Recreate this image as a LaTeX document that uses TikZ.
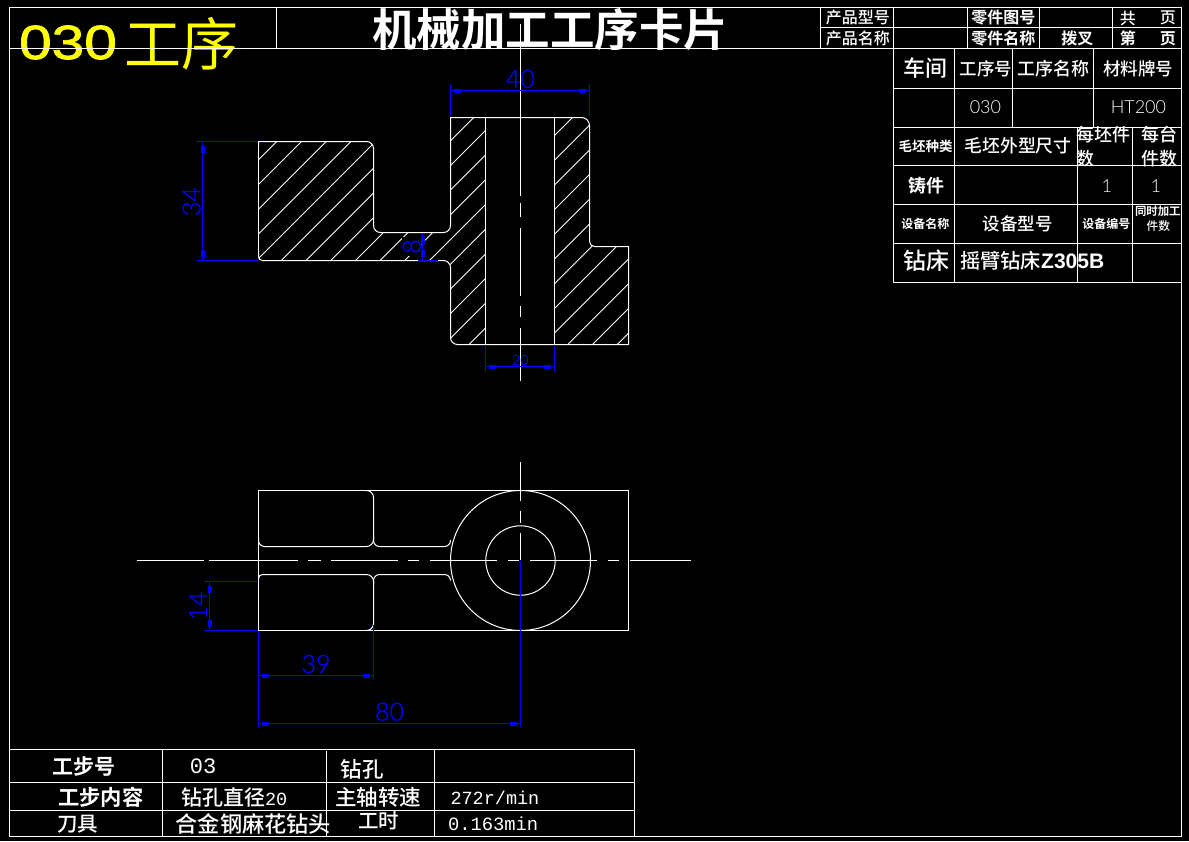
\documentclass[tikz,border=0pt]{standalone}
\usepackage{fontspec}
\setmainfont{Liberation Sans}
\newfontfamily\fatf[FakeBold=1.5]{Liberation Sans}
\newfontfamily\cjk{Noto Sans CJK SC Medium}
\newfontfamily\cjkb{Noto Sans CJK SC Bold}
\newfontfamily\cjkr{Noto Sans CJK SC}
\newfontfamily\thinf{Lato Light}
\newfontfamily\dimf[FakeBold=0.5]{Lato Light}
\newfontfamily\serifn{Liberation Mono}
\definecolor{dimblue}{RGB}{0,0,255}
\definecolor{acadyellow}{RGB}{255,255,0}
\tikzset{
  white line/.style={draw=white,line width=1pt},
  hatch line/.style={draw=white,line width=0.9pt},
  center line/.style={draw=white,line width=1pt},
  lab/.style={inner sep=0pt,outer sep=0pt,text=white,anchor=center},
  dimlab/.style={inner sep=0pt,outer sep=0pt,text=dimblue,anchor=center}
}
% name, x, y, size, font commands, text
\newcommand{\tx}[6]{\node[lab] (#1) at (#2,#3) {\fontsize{#4}{#4}\selectfont #5 #6};}
\newcommand{\dt}[6]{\node[dimlab,#6] (#1) at (#2,#3) {\fontsize{#4}{#4}\selectfont\dimf #5};}
% dimension lines as thin solid bars
\newcommand{\hd}[3]{\fill[dimblue] (#1,#3-0.7) rectangle (#2,#3+0.7);}
\newcommand{\vd}[3]{\fill[dimblue] (#1-0.7,#2) rectangle (#1+0.7,#3);}
% blobs of the dimension arrows
\newcommand{\ablobh}[2]{\fill[dimblue] (#1-3.5,#2-2) rectangle (#1+3.5,#2+2);}
\newcommand{\ablobv}[2]{\fill[dimblue] (#1-2,#2-3.5) rectangle (#1+2,#2+3.5);}
\begin{document}
\begin{tikzpicture}[x=1pt,y=-1pt]
\useasboundingbox (0,0) rectangle (1189,841);
\fill[black] (0,0) rectangle (1189,841);

% ---------- section view: hatching ----------
\begin{scope}
\clip (258.5,141.5) [rounded corners=7] -- (373.5,141.5) -- (373.5,232.5) -- (450.5,232.5) [sharp corners] -- (450.5,117.5) [rounded corners=8] -- (589.5,117.5) [rounded corners=5] -- (589.5,246.5) [sharp corners] -- (628.5,246.5) -- (628.5,344.5) [rounded corners=7] -- (450.5,344.5) [rounded corners=5] -- (450.5,260.5) [sharp corners] -- (258.5,260.5) -- cycle;
\foreach \k in {-8,...,22} {
  \pgfmathsetmacro{\s}{418.3+24.7*\k}
  \draw[hatch line] (\s-100,100) -- (\s-400,400);
}
\end{scope}
\fill[black] (485.5,118) rectangle (554.5,344);
\fill[black] (402,237) rectangle (420.5,256);

% ---------- section view: outline ----------
\draw[white line] (258.5,146) -- (258.5,141.5) [rounded corners=7] -- (373.5,141.5) -- (373.5,232.5) -- (450.5,232.5) [sharp corners] -- (450.5,117.5) [rounded corners=8] -- (589.5,117.5) [rounded corners=5] -- (589.5,246.5) [sharp corners] -- (628.5,246.5) -- (628.5,344.5) [rounded corners=7] -- (450.5,344.5) -- (450.5,260.5) [sharp corners] -- (262,260.5);
\draw[white line,rounded corners=4] (258.5,250) -- (258.5,260.5) -- (265,260.5);
\draw[white line] (258.5,146) -- (258.5,252);
\draw[white line] (485.5,117.5) -- (485.5,344.5);
\draw[white line] (554.5,117.5) -- (554.5,344.5);

% section centre line
\draw[center line] (520.5,24) -- (520.5,196);
\draw[center line] (520.5,203) -- (520.5,217);
\draw[center line] (520.5,228) -- (520.5,296);
\draw[center line] (520.5,306) -- (520.5,317);
\draw[center line] (520.5,328) -- (520.5,380.5);

% ---------- plan view ----------
\draw[white line] (258.5,490.5) rectangle (628.5,630.5);
\draw[white line] (520.5,560.5) circle (70);
\draw[white line] (520.5,560.5) circle (34.7);
\draw[white line] (366,490.5) [rounded corners=7] -- (373.5,490.5) -- (373.5,546.5) [rounded corners=6] -- (258.5,546.5) [sharp corners] -- (258.5,538);
\draw[white line,rounded corners=6] (373.5,536) -- (373.5,546.5) -- (450.5,546.5) -- (450.5,540);
\draw[white line] (366,630.5) [rounded corners=7] -- (373.5,630.5) -- (373.5,574.5) [sharp corners,rounded corners=4] -- (258.5,574.5) [sharp corners] -- (258.5,580);
\draw[white line,rounded corners=6] (373.5,584) -- (373.5,574.5) -- (450.5,574.5) -- (450.5,580);
% plan centre lines
\foreach \a/\b in {136.5/204.2,208.9/298,308.2/320.9,331/398.4,408.2/419.1,430/497.3,508.2/519,530/597.3,608.2/619.1,630/691}
  \draw[center line] (\a,560.5) -- (\b,560.5);
\foreach \a/\b in {462/500.5,511/523,533.3/560}
  \draw[center line] (520.5,\a) -- (520.5,\b);

% ---------- dimensions ----------
% 40
\vd{450.5}{85}{116}
\vd{589.5}{85}{116}
\hd{450.5}{589.5}{90.5}
\ablobh{457.5}{90.5}\ablobh{582.5}{90.5}
\dt{d40}{520.3}{78.7}{25}{40}{}
% 34
\hd{197}{258}{141.5}
\hd{197}{258}{260.5}
\vd{202.5}{141.5}{260.5}
\ablobv{202.5}{149}\ablobv{202.5}{253}
\dt{d34}{191.5}{201.5}{25}{34}{rotate=90}
% 8
\vd{422.5}{232.5}{260.5}
\hd{418}{438}{260.5}
\ablobv{422.5}{240}\ablobv{422.5}{253}
\dt{d8}{411.7}{246.5}{25}{8}{rotate=90}
% 20
\vd{485.5}{345}{370.7}
\vd{554.5}{345}{370.7}
\hd{485.5}{554.5}{366.5}
\ablobh{492}{366.5}\ablobh{547.5}{366.5}
\dt{d20}{520.3}{360}{14}{20}{}
% 14
\hd{204.5}{257}{581.5}
\hd{204.5}{258}{630.5}
\vd{209.5}{581.5}{630.5}
\ablobv{209.5}{589}\ablobv{209.5}{623}
\dt{d14}{198}{606}{25}{14}{rotate=90}
% 39
\vd{373.5}{625}{679.3}
\hd{258.5}{373.5}{675.5}
\ablobh{265.5}{675.5}\ablobh{366.5}{675.5}
\dt{d39}{316}{664}{25}{39}{}
% 80
\vd{258.5}{631}{727}
\vd{520.5}{560.5}{727}
\hd{258.5}{520.5}{723.5}
\ablobh{265.5}{723.5}\ablobh{513.5}{723.5}
\dt{d80}{389.6}{711.7}{25}{80}{}

% ---------- big labels drawn beneath the frame lines ----------
\node[lab,text=acadyellow,xscale=1.22] (op) at (68,42.5) {\fontsize{48}{48}\selectfont\fatf 030};
\node[lab,text=acadyellow] (opc) at (181.5,44) {\fontsize{57}{57}\selectfont\cjkr 工序};
\node[lab] (title) at (550,30) {\fontsize{44.5}{44.5}\selectfont\cjkb 机械加工工序卡片};

% ---------- frame ----------
\draw[white line] (9.5,7.5) rectangle (1181.5,836.5);
\draw[white line] (9.5,48.5) -- (1181.5,48.5);
\draw[white line] (276.5,7.5) -- (276.5,48.5);
\foreach \x in {820.5,893.5,967.5,1039.5,1112.5} \draw[white line] (\x,7.5) -- (\x,48.5);
\draw[white line] (820.5,27.5) -- (1181.5,27.5);

% right table
\foreach \y in {88.5,127.5,165.5,204.5,243.5,282.5} \draw[white line] (893.5,\y) -- (1181.5,\y);
\draw[white line] (893.5,48.5) -- (893.5,282.5);
\draw[white line] (954.5,48.5) -- (954.5,282.5);
\foreach \x in {1012.5,1093.5} \draw[white line] (\x,48.5) -- (\x,127.5);
\foreach \x in {1077.5,1132.5} \draw[white line] (\x,127.5) -- (\x,282.5);

% bottom table
\foreach \y in {749.5,782.5,810.5} \draw[white line] (9.5,\y) -- (634.5,\y);
\foreach \x in {162.5,434.5,634.5} \draw[white line] (\x,749.5) -- (\x,836.5);
\draw[white line] (326.5,751) -- (326.5,836.5);

% ---------- title block text ----------
\tx{a1}{856}{17.5}{16}{\cjk}{产品型号}
\tx{a2}{856}{38}{16}{\cjk}{产品名称}
\tx{a3}{1001.5}{18}{16}{\cjkb}{零件图号}
\tx{a4}{1001.5}{38}{16}{\cjkb}{零件名称}
\tx{a5}{1075.5}{38.5}{16}{\cjkb}{拨叉}
\tx{a6}{1126}{18}{16}{\cjk}{共}
\tx{a7}{1166}{18}{16}{\cjk}{页}
\tx{a8}{1126}{38.5}{16}{\cjkb}{第}
\tx{a9}{1166}{38.5}{16}{\cjkb}{页}

\tx{b1}{923.5}{68}{22}{\cjk}{车间}
\tx{b2}{984}{68.5}{17.5}{\cjk}{工序号}
\tx{b3}{1051.5}{68.5}{18}{\cjk}{工序名称}
\tx{b4}{1136.5}{68.5}{17.5}{\cjk}{材料牌号}
\tx{b5}{983}{107.5}{18}{\thinf}{030}
\tx{b6}{1136}{107.5}{18}{\thinf}{HT200}
\tx{c1}{924}{146}{13.5}{\cjkb}{毛坯种类}
\tx{c2}{1016}{146}{17.8}{\cjk}{毛坯外型尺寸}
\node[lab,anchor=west] (c3) at (1076,135) {\fontsize{18}{18}\selectfont\cjk 每坯件};
\node[lab,anchor=west] (c4) at (1076,158.5) {\fontsize{18}{18}\selectfont\cjk 数};
\tx{c5}{1157}{135}{18}{\cjk}{每台}
\tx{c6}{1157}{158.5}{18}{\cjk}{件数}
\tx{d1}{924}{186}{18}{\cjkb}{铸件}
\tx{d2}{1104.5}{186}{18}{\thinf}{1}
\tx{d3}{1153.5}{186}{18}{\thinf}{1}
\tx{e1}{924}{224}{12}{\cjkb}{设备名称}
\tx{e2}{1016}{224}{17.5}{\cjk}{设备型号}
\tx{e3}{1105}{224}{12}{\cjkb}{设备编号}
\tx{e4}{1156.5}{211}{11.4}{\cjkb}{同时加工}
\tx{e5}{1157}{226}{11.7}{\cjk}{件数}
\tx{f1}{924}{261}{23}{\cjk}{钻床}
\node[lab,anchor=west] (f2) at (960,260.5) {\fontsize{20.3}{20.3}\selectfont\cjk 摇臂钻床{\fontsize{21}{21}\selectfont\rmfamily\bfseries Z305B}};

% ---------- bottom table text ----------
\tx{g1}{82}{766}{21}{\cjkb}{工步号}
\tx{g2}{196.5}{766}{22}{\serifn}{03}
\tx{g3}{360}{769}{21.5}{\cjk}{钻孔}
\tx{h1}{98.5}{797}{21.3}{\cjkb}{工步内容}
\node[lab,anchor=west] (h2) at (181,797) {\fontsize{21}{21}\selectfont\cjk 钻孔直径{\fontsize{18.5}{18.5}\selectfont\serifn 20}};
\tx{h3}{376}{797}{21.5}{\cjk}{主轴转速}
\node[lab,anchor=west] (h4) at (450.5,798) {\fontsize{18.5}{18.5}\selectfont\serifn 272r/min};
\tx{i1}{75.5}{824}{20.5}{\cjk}{刀具}
\tx{i2}{251}{824}{22.2}{\cjk}{合金钢麻花钻头}
\tx{i3}{376.5}{821}{20.5}{\cjk}{工时}
\node[lab,anchor=west] (i4) at (448,824) {\fontsize{18.8}{18.8}\selectfont\serifn 0.163min};
\end{tikzpicture}
\end{document}
